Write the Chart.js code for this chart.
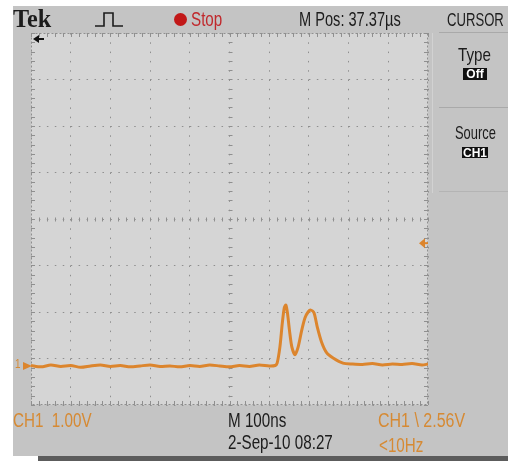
<!DOCTYPE html>
<html>
<head>
<meta charset="utf-8">
<script src="https://cdn.jsdelivr.net/npm/chart.js@4/dist/chart.umd.min.js"></script>
<style>
body { margin: 0; background: #fff; }
#wrap { position: relative; width: 508px; height: 461px; overflow: hidden; }
.box { position: absolute; }
.t { position: absolute; font-family: "Liberation Sans", Arial, sans-serif;
     font-size: 20px; line-height: 20px; white-space: nowrap; transform-origin: 0 0;
     transform: scaleX(0.76); color: #1c1c1c; }
.or { color: #d68a34; }
.inv { position: absolute; background: #111; color: #fff; font-family: "Liberation Sans", sans-serif;
       font-weight: bold; font-size: 12px; line-height: 12px; text-align: center; }
</style>
</head>
<body>
<div id="wrap">
  <div class="box" style="left:13px;top:6px;width:495px;height:450px;background:#c4c4c4"></div>
  <div class="box" style="left:38px;top:456px;width:470px;height:5px;background:#5c5c5c"></div>
  <div class="box" style="left:432px;top:33px;width:1px;height:160px;background:#d2d2d2"></div>
  <div class="box" style="left:439px;top:32px;width:69px;height:1px;background:#a9a9a9"></div>
  <div class="box" style="left:439px;top:107px;width:69px;height:1px;background:#a9a9a9"></div>
  <div class="box" style="left:439px;top:191px;width:69px;height:1px;background:#b4b4b4"></div>

  <canvas id="scope" width="508" height="461" style="position:absolute;left:0;top:0"></canvas>

  <div class="t" style="left:13px;top:6px;font-family:'Liberation Serif',serif;font-weight:bold;font-size:26px;line-height:26px;transform:scaleX(0.93)">Tek</div>
  <svg class="box" style="left:92px;top:10px" width="34" height="20">
    <polyline points="3,16 12,16 12,3 21,3 21,16 31,16" fill="none" stroke="#1c1c1c" stroke-width="1.6"/>
  </svg>
  <div class="box" style="left:174px;top:13px;width:13px;height:13px;border-radius:50%;background:#c21818"></div>
  <div class="t" style="left:191px;top:9px;color:#c0282c">Stop</div>
  <div class="t" style="left:299px;top:9px;transform:scaleX(0.73)">M Pos: 37.37µs</div>
  <div class="t" style="left:447px;top:10px;font-size:19px;transform:scaleX(0.69)">CURSOR</div>
  <div class="t" style="left:458px;top:45px;font-size:19px;transform:scaleX(0.8)">Type</div>
  <div class="inv" style="left:463px;top:68px;width:24px;height:12px">Off</div>
  <div class="t" style="left:455px;top:123px;font-size:19px;transform:scaleX(0.68)">Source</div>
  <div class="inv" style="left:462px;top:147px;width:26px;height:11px">CH1</div>

  <div class="t or" style="left:15px;top:354px;font-size:13px">1</div>

  <div class="t or" style="left:13px;top:410px">CH1&nbsp;&nbsp;1.00V</div>
  <div class="t" style="left:228px;top:410px">M 100ns</div>
  <div class="t" style="left:228px;top:432px">2-Sep-10 08:27</div>
  <div class="t or" style="left:378px;top:410px;transform:scaleX(0.8)">CH1 \ 2.56V</div>
  <div class="t or" style="left:379px;top:435px">&lt;10Hz</div>
</div>
<script>
// time axis: 100 ns/div, 10 divs; volts: 1 V/div, 8 divs (0 = screen centre)
const timeNs = [0, 25, 50, 75, 100, 125, 150, 175, 200, 225, 250, 275, 300, 325, 350, 375, 400,
  425, 450, 475, 500, 525, 550, 575, 600, 615, 620, 627, 633, 638, 642, 646, 651, 657, 665, 673,
  682, 690, 698, 705, 713, 721, 732, 745, 761, 786, 810, 835, 860, 885, 910, 935, 960, 985, 1000];
const ch1Volts = [-3.15, -3.18, -3.14, -3.17, -3.15, -3.19, -3.16, -3.14, -3.17, -3.15, -3.18,
  -3.16, -3.14, -3.17, -3.16, -3.18, -3.15, -3.17, -3.14, -3.16, -3.18, -3.15, -3.17, -3.14, -3.16,
  -3.15, -3.10, -2.75, -2.24, -1.91, -1.85, -2.02, -2.39, -2.75, -2.92, -2.75, -2.39, -2.13, -2.00,
  -1.96, -2.02, -2.32, -2.65, -2.88, -2.99, -3.10, -3.12, -3.13, -3.11, -3.14, -3.12, -3.13, -3.11,
  -3.14, -3.12];
const groundLevel = -3.16;
const triggerLevel = -0.52;

var orange = 'rgb(220,133,45)';

// scope graticule: background, border ticks, centre ticks, markers
var scopeGrid = {
  id: 'scopeGrid',
  beforeDraw: function(chart) {
    var a = chart.chartArea, ctx = chart.ctx;
    ctx.save();
    ctx.fillStyle = '#d5d5d5';
    ctx.fillRect(a.left, a.top, a.right - a.left, a.bottom - a.top);
    ctx.restore();
  },
  beforeDatasetsDraw: function(chart) {
    var a = chart.chartArea, ctx = chart.ctx;
    var xs = chart.scales.x, ys = chart.scales.y;
    ctx.save();
    ctx.strokeStyle = '#8f8f8f';
    ctx.lineWidth = 1;
    ctx.setLineDash([2, 2]);
    ctx.strokeRect(a.left + 0.5, a.top + 0.5, a.right - a.left - 1, a.bottom - a.top - 1);
    ctx.setLineDash([]);
    ctx.beginPath();
    for (var t = 0; t <= 1000; t += 20) {
      var px = Math.round(xs.getPixelForValue(t)) + 0.5;
      ctx.moveTo(px, a.top); ctx.lineTo(px, a.top + 4);
      ctx.moveTo(px, a.bottom); ctx.lineTo(px, a.bottom - 4);
      var cy = Math.round(ys.getPixelForValue(0)) + 0.5;
      ctx.moveTo(px, cy - 2); ctx.lineTo(px, cy + 2);
    }
    for (var v = -4; v <= 4.001; v += 0.2) {
      var py = Math.round(ys.getPixelForValue(v)) + 0.5;
      ctx.moveTo(a.left, py); ctx.lineTo(a.left + 4, py);
      ctx.moveTo(a.right, py); ctx.lineTo(a.right - 4, py);
      var cx = Math.round(xs.getPixelForValue(500)) + 0.5;
      ctx.moveTo(cx - 2, py); ctx.lineTo(cx + 2, py);
    }
    ctx.stroke();
    ctx.restore();
  },
  afterDraw: function(chart) {
    var a = chart.chartArea, ctx = chart.ctx;
    var ys = chart.scales.y;
    ctx.save();
    // ground marker
    var gy = ys.getPixelForValue(groundLevel);
    ctx.fillStyle = orange;
    ctx.beginPath();
    ctx.moveTo(a.left + 1, gy); ctx.lineTo(a.left - 8, gy - 4); ctx.lineTo(a.left - 8, gy + 4);
    ctx.closePath(); ctx.fill();
    // trigger level marker
    var ty = ys.getPixelForValue(triggerLevel);
    ctx.beginPath();
    ctx.moveTo(a.right - 9, ty); ctx.lineTo(a.right - 3, ty - 5); ctx.lineTo(a.right - 3, ty + 5);
    ctx.closePath(); ctx.fill();
    ctx.fillRect(a.right - 4, ty - 1, 4, 2);
    // trigger position (off screen left)
    ctx.fillStyle = '#111';
    ctx.beginPath();
    ctx.moveTo(a.left + 2, a.top + 6); ctx.lineTo(a.left + 8, a.top + 2); ctx.lineTo(a.left + 8, a.top + 10);
    ctx.closePath(); ctx.fill();
    ctx.fillRect(a.left + 7, a.top + 5, 6, 2);
    ctx.restore();
  }
};

function createChart() {
  var ctx = document.getElementById('scope').getContext('2d');
  var points = timeNs.map(function(t, i) { return {x: t, y: ch1Volts[i]}; });
  return new Chart(ctx, {
    type: 'line',
    data: {
      datasets: [{
        data: points,
        borderColor: orange,
        borderWidth: 3,
        pointRadius: 0,
        tension: 0.25
      }]
    },
    options: {
      responsive: false,
      animation: false,
      layout: { padding: { left: 31, top: 33, right: 80, bottom: 56 } },
      plugins: { legend: { display: false }, tooltip: { enabled: false } },
      scales: {
        x: {
          type: 'linear', min: 0, max: 1000,
          ticks: { display: false, stepSize: 100 },
          grid: { color: '#8f8f8f', lineWidth: 1, drawTicks: false },
          border: { display: false, dash: [1.5, 7.8] }
        },
        y: {
          type: 'linear', min: -4, max: 4,
          ticks: { display: false, stepSize: 1 },
          grid: { color: '#8f8f8f', lineWidth: 1, drawTicks: false },
          border: { display: false, dash: [1.5, 6.44] }
        }
      }
    },
    plugins: [scopeGrid]
  });
}

var chart = createChart();
</script>
</body>
</html>
